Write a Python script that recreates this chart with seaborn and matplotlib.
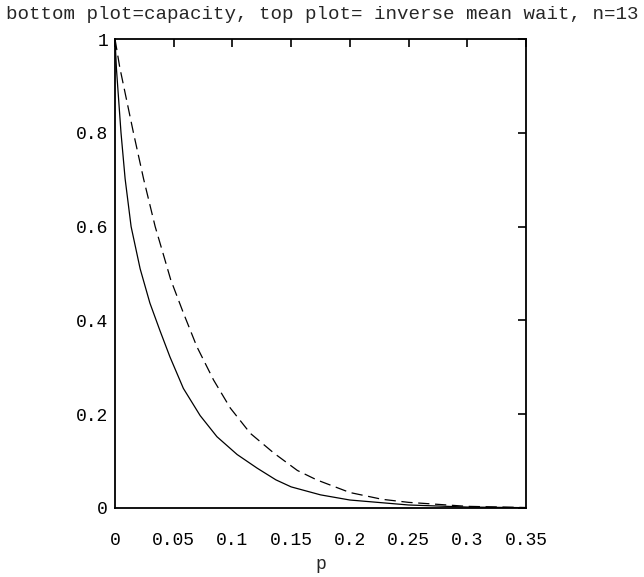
import pandas as pd
import matplotlib
matplotlib.use('Agg')
import matplotlib.pyplot as plt
import seaborn as sns

# values
cap_p = [0.0, 0.0012, 0.0051, 0.0086, 0.0137, 0.0214, 0.0297, 0.0383, 0.0468,
         0.0582, 0.0725, 0.0868, 0.104, 0.121, 0.137, 0.15, 0.175, 0.2, 0.25,
         0.3, 0.35]
cap_v = [1.0, 0.937, 0.8, 0.702, 0.6, 0.51, 0.437, 0.378, 0.322,
         0.255, 0.197, 0.152, 0.114, 0.085, 0.06, 0.045, 0.028, 0.017, 0.0064,
         0.002, 0.0007]

wait_p = [0.0, 0.004, 0.0157, 0.0243, 0.0342, 0.041, 0.0474, 0.0582, 0.0697,
          0.0839, 0.0982, 0.1153, 0.1353, 0.1553, 0.1717, 0.2, 0.2275, 0.25,
          0.3, 0.35]
wait_v = [1.0, 0.94, 0.8, 0.702, 0.6, 0.542, 0.487, 0.416, 0.344,
          0.273, 0.213, 0.159, 0.117, 0.08, 0.06, 0.033, 0.0185, 0.012,
          0.0035, 0.001]

x_ticks = [0, 0.05, 0.1, 0.15, 0.2, 0.25, 0.3, 0.35]
x_labels = ['0', '0.05', '0.1', '0.15', '0.2', '0.25', '0.3', '0.35']
y_ticks = [0, 0.2, 0.4, 0.6, 0.8, 1]
y_labels = ['0', '0.2', '0.4', '0.6', '0.8', '1']

cap = pd.DataFrame({'p': cap_p, 'v': cap_v})
wait = pd.DataFrame({'p': wait_p, 'v': wait_v})

sns.set_style('white')
plt.rcParams['font.family'] = ['Liberation Mono', 'DejaVu Sans Mono']

fig = plt.figure(figsize=(6.44, 5.77), dpi=100)
ax = fig.add_axes([0.1786, 0.1196, 0.6382, 0.8128])

sns.lineplot(x='p', y='v', data=cap, ax=ax, color='black', linewidth=0.9)
sns.lineplot(x='p', y='v', data=wait, ax=ax, color='black', linewidth=0.9,
             linestyle=(0, (9, 4.5)))

ax.set_xlim(0, 0.35)
ax.set_ylim(0, 1)
ax.set_xticks(x_ticks)
ax.set_xticklabels(x_labels)
ax.set_yticks(y_ticks)
ax.set_yticklabels(y_labels)
ax.tick_params(direction='in', length=6, width=1.2, top=True, right=True,
               labelsize=13, colors='black')
ax.tick_params(axis='x', pad=17)
ax.tick_params(axis='y', pad=5)
for s in ax.spines.values():
    s.set_color('black')
    s.set_linewidth(1.3)

ax.set_xlabel('p', fontsize=13, labelpad=5)
ax.set_ylabel('')
fig.suptitle('bottom plot=capacity, top plot= inverse mean wait, n=13',
             fontsize=13.8, y=0.99)

fig.savefig('out.png', dpi=100)
